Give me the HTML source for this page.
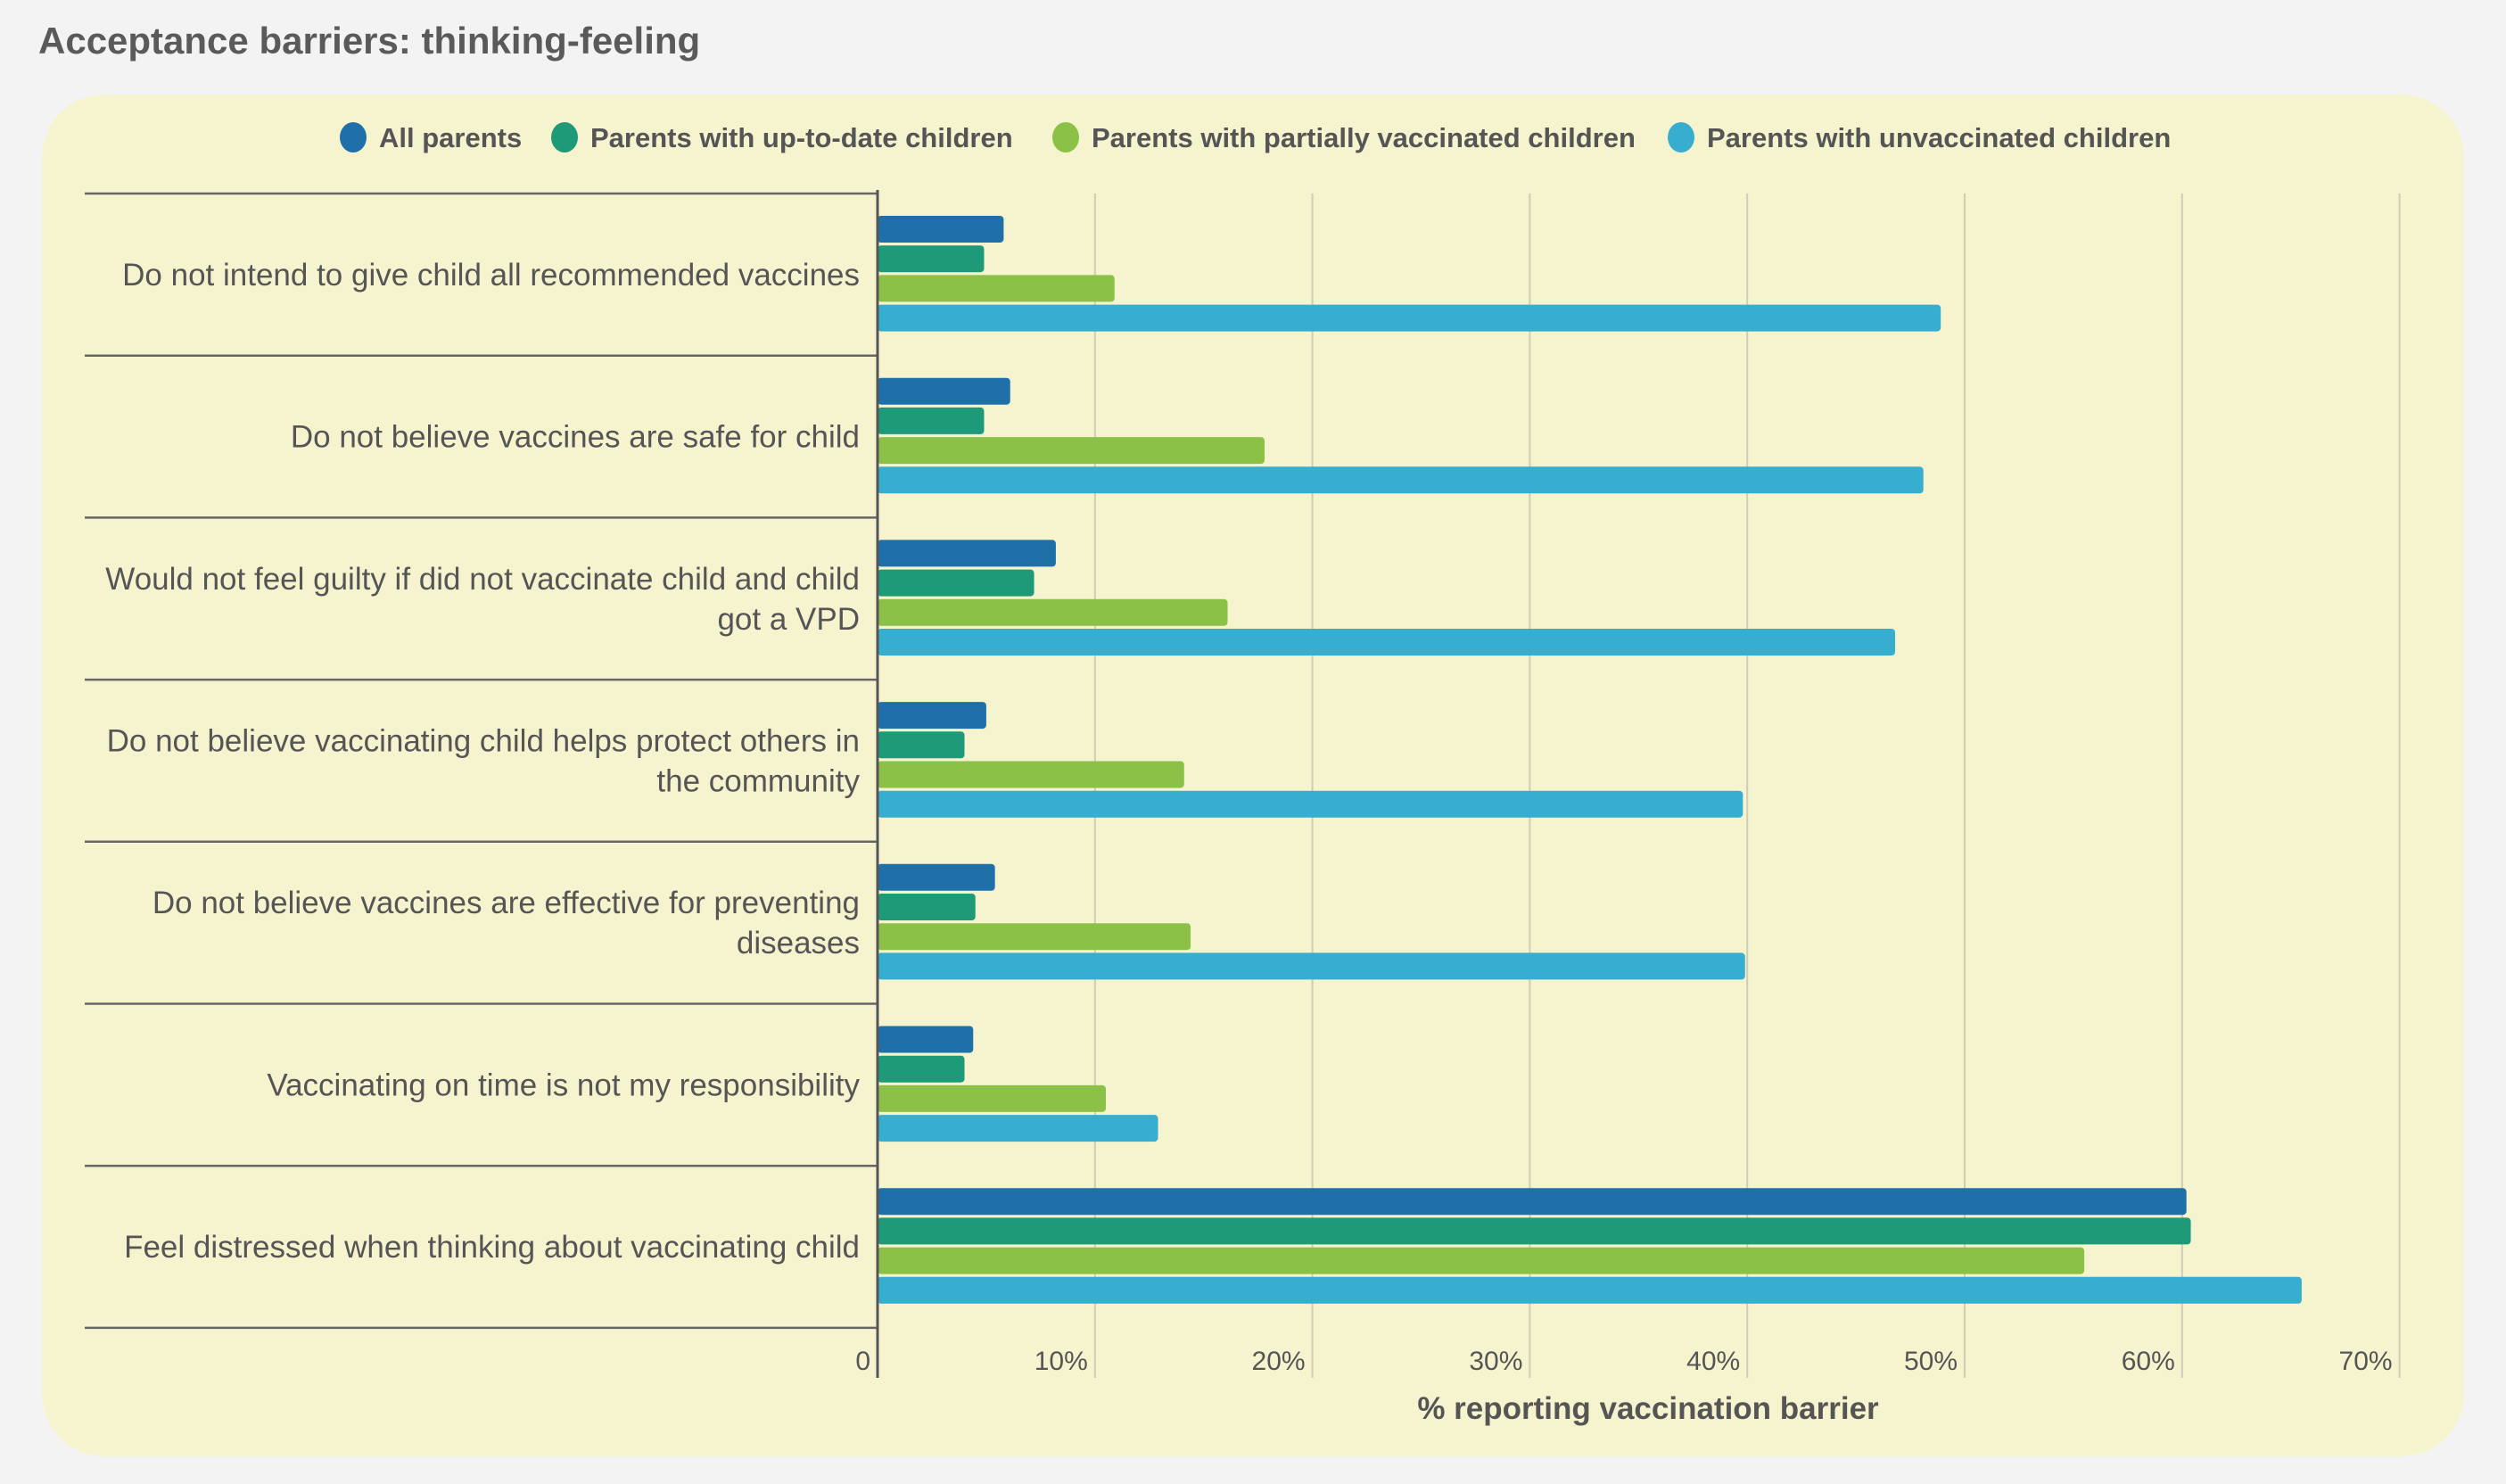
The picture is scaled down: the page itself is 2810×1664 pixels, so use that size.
<!DOCTYPE html>
<html><head><meta charset="utf-8"><style>
html,body{margin:0;padding:0;background:#f3f3f3;}
svg{display:block;font-family:"Liberation Sans",sans-serif;}
</style></head><body>
<svg id="chart" width="2810" height="1664" viewBox="0 0 2810 1664" xmlns="http://www.w3.org/2000/svg">
<rect x="0" y="0" width="2810" height="1664" fill="#f3f3f3"/>
<text x="43" y="60" font-size="42" font-weight="bold" fill="#5a5a5a">Acceptance barriers: thinking-feeling</text>
<rect x="47" y="106" width="2716" height="1527" rx="70" ry="70" fill="#f6f4cf"/>
<g id="legend"></g>
<g id="grid"></g>
<g id="bars"></g>
<g id="cats"></g>
<g id="ticks"></g>
<text x="1848" y="1591" font-size="35" font-weight="bold" fill="#555" text-anchor="middle">% reporting vaccination barrier</text>
</svg>
<script>
const categories = [
 "Do not intend to give child all recommended vaccines",
 "Do not believe vaccines are safe for child",
 "Would not feel guilty if did not vaccinate child and child\ngot a VPD",
 "Do not believe vaccinating child helps protect others in\nthe community",
 "Do not believe vaccines are effective for preventing\ndiseases",
 "Vaccinating on time is not my responsibility",
 "Feel distressed when thinking about vaccinating child"
];
const seriesNames = ["All parents","Parents with up-to-date children","Parents with partially vaccinated children","Parents with unvaccinated children"];
const allParents = [5.8, 6.1, 8.2, 5.0, 5.4, 4.4, 60.2];
const upToDate = [4.9, 4.9, 7.2, 4.0, 4.5, 4.0, 60.4];
const partially = [10.9, 17.8, 16.1, 14.1, 14.4, 10.5, 55.5];
const unvaccinated = [48.9, 48.1, 46.8, 39.8, 39.9, 12.9, 65.5];
const tickValues = [0,10,20,30,40,50,60,70];
const tickLabels = ["0","10%","20%","30%","40%","50%","60%","70%"];

const series = [allParents, upToDate, partially, unvaccinated];
const colors = ["#1f6fa8","#1e9a78","#8bc146","#37aecf"];
const NS = "http://www.w3.org/2000/svg";
const x0 = 984, pxPer = 243.8, yTop = 217, band = 181.7;
const xs = v => x0 + v * pxPer / 10;
const yBand = i => yTop + i * band;
function mk(tag, attrs, parent){const e=document.createElementNS(NS,tag);for(const k in attrs)e.setAttribute(k,attrs[k]);parent.appendChild(e);return e;}

const legend = document.getElementById('legend');
const legX = [396, 633, 1195, 1885];
seriesNames.forEach((n,i)=>{
  const g = mk('g',{},legend);
  
  
  mk('ellipse',{cx:legX[i],cy:154,rx:15,ry:17,fill:colors[i]},g);
  const t = mk('text',{x:legX[i]+29,y:165,'font-size':31,'font-weight':'bold',fill:'#555'},g);
  t.textContent = n;
});

const grid = document.getElementById('grid'), ticks = document.getElementById('ticks');
tickValues.forEach((v,i)=>{
  if(v>0){
    const l = mk('line',{x1:xs(v),x2:xs(v),y1:yTop,y2:1545,stroke:'#cfcdb4','stroke-width':2},grid);
    
    
  }
  const t = mk('text',{x:xs(v)-8,y:1536,'font-size':30,fill:'#555','text-anchor':'end'},ticks);
  
  
  t.textContent = tickLabels[i];
});

const bars = document.getElementById('bars');
categories.forEach((c,ci)=>{
  series.forEach((s,si)=>{
    const y = yBand(ci) + 25 + si*33.2;
    const w = xs(s[ci]) - x0;
    const r = mk('rect',{x:x0,y:y,width:w,height:30,rx:4,fill:colors[si]},bars);
    
    
  });
});

const cats = document.getElementById('cats');
for(let i=0;i<=categories.length;i++){
  const l = mk('line',{x1:95,x2:x0,y1:yBand(i),y2:yBand(i),stroke:'#666','stroke-width':2.5},cats);
  
  
}
categories.forEach((c,ci)=>{
  const lines = c.split("\n");
  const mid = yBand(ci) + band/2;
  const t = mk('text',{'font-size':35,fill:'#555','text-anchor':'end'},cats);
  
  
  lines.forEach((ln,li)=>{
    const ts = mk('tspan',{x:964,y:mid + 12 + (li-(lines.length-1)/2)*45},t);
    ts.textContent = ln;
  });
});
const ax = mk('line',{x1:x0,x2:x0,y1:yTop-4,y2:1545,stroke:'#555','stroke-width':3},document.getElementById('chart'));


</script>
</body></html>
